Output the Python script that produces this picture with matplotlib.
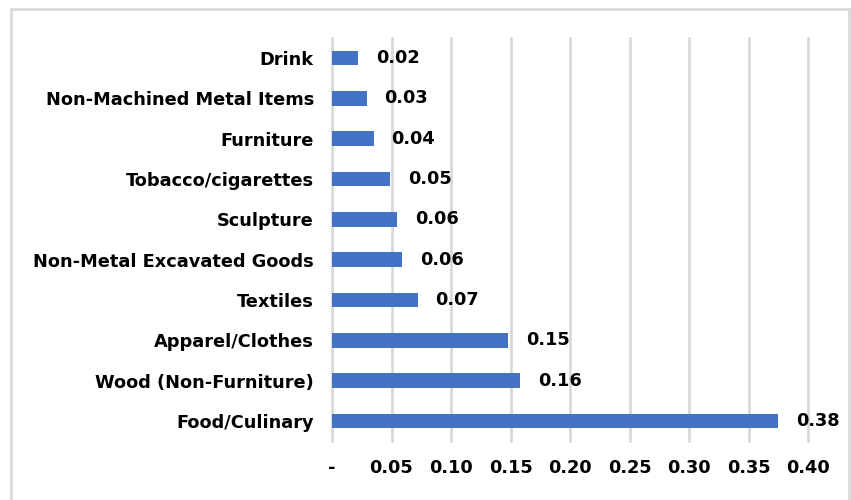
import matplotlib
matplotlib.use("Agg")
import matplotlib.pyplot as plt
from matplotlib.patches import Rectangle

categories = ["Drink", "Non-Machined Metal Items", "Furniture", "Tobacco/cigarettes",
              "Sculpture", "Non-Metal Excavated Goods", "Textiles", "Apparel/Clothes",
              "Wood (Non-Furniture)", "Food/Culinary"]
values = [0.022, 0.029, 0.035, 0.049, 0.055, 0.059, 0.072, 0.148, 0.158, 0.375]
xticks = [0, 0.05, 0.10, 0.15, 0.20, 0.25, 0.30, 0.35, 0.40]
xticklabels = ["-", "0.05", "0.10", "0.15", "0.20", "0.25", "0.30", "0.35", "0.40"]

plt.rcParams['font.family'] = ['DejaVu Sans']
FS = 12.8
fig = plt.figure(figsize=(8.51, 5.0), dpi=100)
ax = fig.add_axes([332/851, 1-441/500, (808-332)/851, (441-38)/500])

n = len(categories)
ypos = list(range(n))[::-1]
ax.barh(ypos, values, height=0.36, color="#4472C4", zorder=3)
for y, v in zip(ypos, values):
    ax.text(v + 0.015, y, f"{v:.2f}", va="center", ha="left", fontsize=FS,
            fontweight="bold", color="black")

ax.set_ylim(-0.5, n - 0.5)
ax.set_xlim(0, 0.40)
ax.set_yticks(ypos)
ax.set_yticklabels(categories, fontsize=FS, fontweight="bold")
ax.set_xticks(xticks)
ax.set_xticklabels(xticklabels, fontsize=FS, fontweight="bold")
ax.tick_params(axis="both", length=0)
ax.tick_params(axis="y", pad=13)
ax.tick_params(axis="x", pad=13)
ax.grid(axis="x", color="#D9D9D9", linewidth=2, zorder=0)
for gl in ax.get_xgridlines():
    gl.set_clip_on(False)
for s in ax.spines.values():
    s.set_visible(False)

fig.patches.append(Rectangle((11/851, -0.01), (849-11)/851, 1-9/500+0.01,
                             transform=fig.transFigure, fill=False,
                             edgecolor="#D9D9D9", linewidth=2))
fig.savefig("out.png", dpi=100)
